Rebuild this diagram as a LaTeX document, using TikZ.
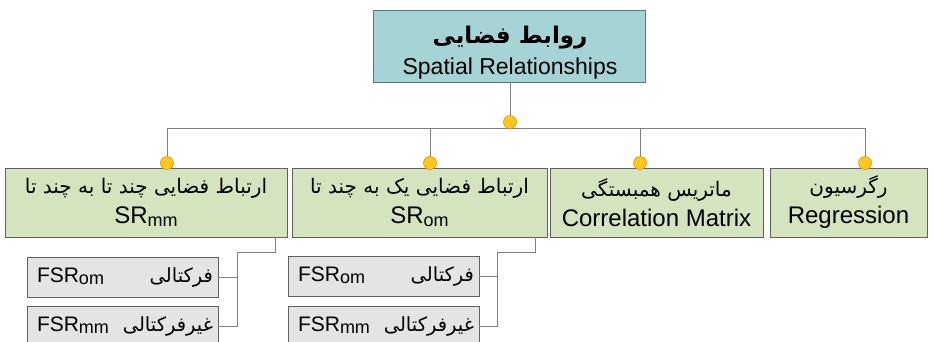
\documentclass[tikz,border=0pt]{standalone}
\usepackage{fontspec}
\setmainfont{Liberation Sans}
\newfontfamily\fa[Script=Arabic]{DejaVu Sans}
\TeXXeTstate=1
\newcommand{\sbs}[1]{\raisebox{-0.12em}{\fontsize{18}{18}\selectfont #1}}
\newcommand{\fsz}[1]{\fontsize{#1}{#1}\fa}
\definecolor{tealfill}{RGB}{166,212,214}
\definecolor{tealline}{RGB}{90,120,122}
\definecolor{greenfill}{RGB}{212,228,190}
\definecolor{grayfill}{RGB}{228,228,228}
\definecolor{dotY}{RGB}{255,200,30}
\definecolor{dotO}{RGB}{225,145,0}
\begin{document}
\begin{tikzpicture}[x=1pt,y=-1pt,
 box/.style={draw=black!62, line width=0.8pt, inner sep=0pt, align=center},
 lvl/.style={box, fill=greenfill, minimum height=69pt, font=\fontsize{24}{30}\selectfont},
 leaf/.style={box, fill=grayfill, minimum width=191pt, minimum height=40pt, text width=181pt, align=flush left, font=\fontsize{21}{24}\selectfont},
 conn/.style={draw=black!50, line width=0.8pt},
 knob/.style={circle, fill=dotY, draw=dotO, line width=0.6pt, minimum size=13pt, inner sep=0pt}]
\useasboundingbox (0,0) rectangle (932,341);
\clip (0,0) rectangle (932,341);
\fill[white] (0,0) rectangle (932,341);
% coordinates
\coordinate (topdot) at (510,122);
\coordinate (d1) at (167,163);
\coordinate (d2) at (430,163);
\coordinate (d3) at (640,163);
\coordinate (d4) at (865,163);
\coordinate (busy) at (0,128);
\coordinate (bus1) at (237,252);
\coordinate (bus2) at (497,252);
\coordinate (s1) at (275,0);
\coordinate (s2) at (535,0);
% nodes
\node[box, fill=tealfill, draw=tealline, minimum width=272pt, minimum height=72pt] (top) at (509,46) {};
\node[align=center, inner sep=0pt, font=\fontsize{23}{29}\selectfont] (toplbl) at (510,53) {{\fsz{23}\bfseries\beginR روابط فضایی\endR}\\[2pt] Spatial Relationships};
\node[lvl, minimum width=282pt] (b1) at (146,202.5) {{\fsz{20}\beginR ارتباط فضایی چند تا به چند تا\endR}\\ SR\sbs{mm}};
\node[lvl, minimum width=255pt] (b2) at (419.5,202.5) {{\fsz{20}\beginR ارتباط فضایی یک به چند تا\endR}\\ SR\sbs{om}};
\node[lvl, minimum width=213pt] (b3) at (656.5,202.5) {{\fsz{20}\beginR ماتریس همبستگی\endR}\\ Correlation Matrix};
\node[lvl, minimum width=157pt] (b4) at (848.5,202.5) {{\fsz{20}\beginR رگرسیون\endR}\\ Regression};
\node[leaf] (l1a) at (122.5,277) {\hspace*{5pt}FSR\sbs{om}\hfill{\fsz{19.5}\beginR فرکتالی\endR}};
\node[leaf] (l1b) at (122.5,326) {\hspace*{5pt}FSR\sbs{mm}\hfill{\fsz{19.5}\beginR غیرفرکتالی\endR}};
\node[leaf] (l2a) at (383.5,276) {\hspace*{5pt}FSR\sbs{om}\hfill{\fsz{19.5}\beginR فرکتالی\endR}};
\node[leaf] (l2b) at (383.5,326) {\hspace*{5pt}FSR\sbs{mm}\hfill{\fsz{19.5}\beginR غیرفرکتالی\endR}};
% connectors
\draw[conn] (top.south -| topdot) -- (topdot);
\draw[conn] (d1 |- busy) -- (d4 |- busy);
\foreach \d in {d1,d2,d3,d4} \draw[conn] (\d |- busy) -- (\d);
\draw[conn] (s1 |- b1.south) |- (bus1) |- (l1b.east);
\draw[conn] (bus1 |- l1a.east) -- (l1a.east);
\draw[conn] (s2 |- b2.south) |- (bus2) |- (l2b.east);
\draw[conn] (bus2 |- l2a.east) -- (l2a.east);
% knobs
\node[knob] (k0) at (topdot) {};
\foreach \d in {d1,d2,d3,d4} \node[knob] (k\d) at (\d) {};
\end{tikzpicture}
\end{document}
